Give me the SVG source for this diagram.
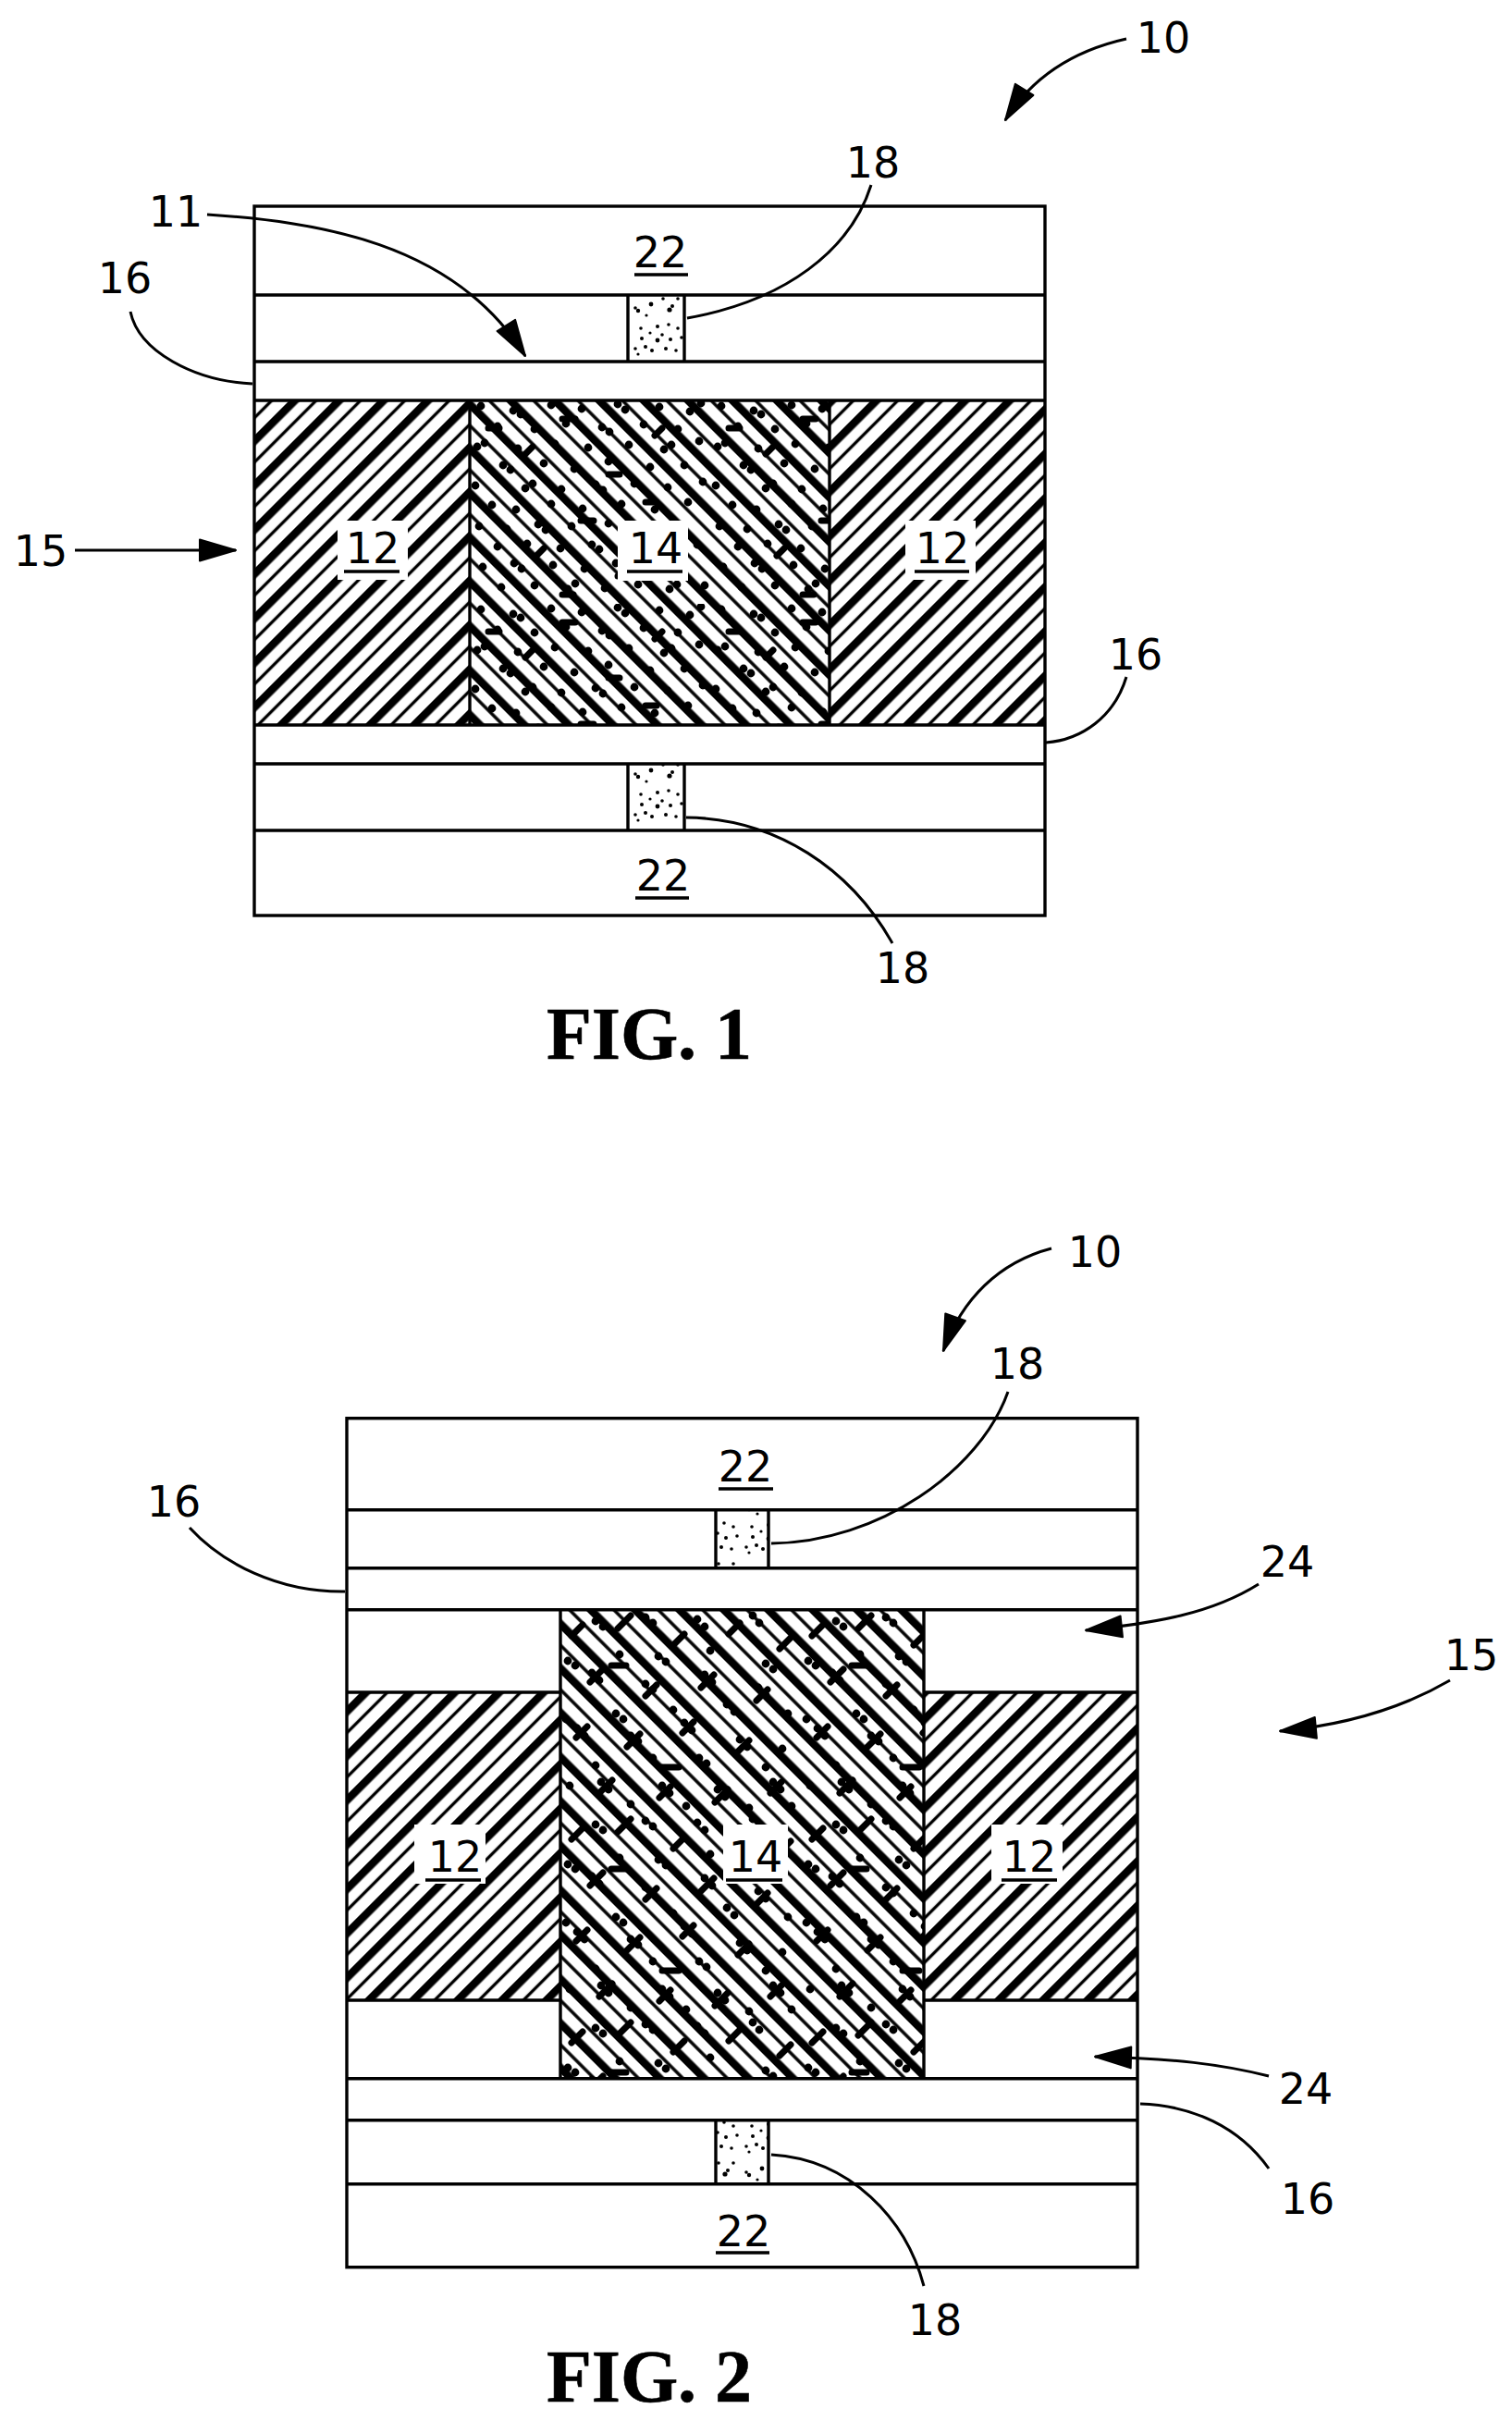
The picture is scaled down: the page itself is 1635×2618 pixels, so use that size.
<svg xmlns="http://www.w3.org/2000/svg" width="1635" height="2618" viewBox="0 0 1635 2618">
<style>
.o{fill:none;stroke:#000;stroke-width:3.4}
.l{fill:none;stroke:#000;stroke-width:3.4}
.c{fill:none;stroke:#000;stroke-width:3}
.a{marker-end:url(#ah)}
.n{font-family:"DejaVu Sans",sans-serif;font-size:46px;text-anchor:middle;fill:#000}
.f{font-family:"Liberation Serif",serif;font-weight:bold;font-size:80px;text-anchor:middle;fill:#000;stroke:#000;stroke-width:.6}
.u{stroke:#000;stroke-width:3.6}
.w{fill:#fff}
.dot{fill:none;stroke:#000;stroke-width:8.8;stroke-linecap:round}
.bar{fill:none;stroke:#000;stroke-width:7;stroke-linecap:round}
</style>
<defs>
<marker id="ah" markerUnits="userSpaceOnUse" markerWidth="44" markerHeight="30" viewBox="0 0 44 30" refX="41" refY="15" orient="auto"><path d="M2 3.500L41 15L2 26.500Z" fill="#000" stroke="#000" stroke-width="2" stroke-linejoin="round"/></marker>
<pattern id="h12" width="33.94" height="33.94" patternUnits="userSpaceOnUse"><rect x="0" width="8.500" height="33.94"/><rect x="18.800" width="3.400" height="33.94"/></pattern>
<pattern id="h14" width="33.94" height="33.94" patternUnits="userSpaceOnUse"><rect x="0" width="8.500" height="33.94"/><rect x="20.200" width="3.400" height="33.94"/></pattern>
<pattern id="p1a" href="#h12" patternTransform="translate(26 0) rotate(45)"/>
<pattern id="p1b" href="#h12" patternTransform="translate(31 0) rotate(45)"/>
<pattern id="p1c" href="#h14" patternTransform="translate(17 0) rotate(-45)"/>
<pattern id="p2a" href="#h12" patternTransform="translate(12 0) rotate(45)"/>
<pattern id="p2b" href="#h12" patternTransform="translate(21 0) rotate(45)"/>
<pattern id="p2c" href="#h14" patternTransform="translate(44 0) rotate(-45)"/>
<pattern id="d1" width="260" height="220" patternUnits="userSpaceOnUse" x="508" y="433">
<path class="dot" d="M12 6h0M47 11h0M55 15h0M88 5h0M121 9h0M160 4h0M168 10h0M205 7h0M238 12h0M250 3h0M30 28h0M70 31h0M104 25h0M143 29h0M151 34h0M188 26h0M225 31h0M8 50h0M16 46h0M52 52h0M92 47h0M128 51h0M172 48h0M210 53h0M218 48h0M248 44h0M36 70h0M44 75h0M80 68h0M113 74h0M150 66h0M195 72h0M232 70h0M6 92h0M60 95h0M68 90h0M99 96h0M136 91h0M144 97h0M178 90h0M214 94h0M252 88h0M24 113h0M50 118h0M88 112h0M122 117h0M164 112h0M200 118h0M236 110h0M10 136h0M40 139h0M74 134h0M82 140h0M110 136h0M150 133h0M186 138h0M222 134h0M230 140h0M30 158h0M62 155h0M98 160h0M132 156h0M140 161h0M170 155h0M208 160h0M246 156h0M14 180h0M48 176h0M56 182h0M90 178h0M124 182h0M158 176h0M194 181h0M228 178h0M34 202h0M70 200h0M106 204h0M114 198h0M146 203h0M182 199h0M216 204h0M224 199h0M254 200h0"/>
<path class="bar" d="M20 30h12M100 20h14M60 58l8-8M150 80h12M200 38l8-8M120 130h14M190 110h12M72 168l8-8M160 190h12M100 210h12"/>
</pattern>
<pattern id="d2" width="260" height="220" patternUnits="userSpaceOnUse" x="606" y="1741">
<path class="dot" d="M38 12h0M46 18h0M92 8h0M100 14h0M148 10h0M156 18h0M208 6h0M215 14h0M8 55h0M16 60h0M64 48h0M106 50h0M114 56h0M162 44h0M222 58h0M230 64h0M34 68h0M42 76h0M92 80h0M100 86h0M156 70h0M164 78h0M214 84h0M222 92h0M6 118h0M60 112h0M68 118h0M122 108h0M180 102h0M188 110h0M246 112h0M18 128h0M26 136h0M76 136h0M84 142h0M134 122h0M142 130h0M194 140h0M202 148h0M240 150h0M38 168h0M100 160h0M150 160h0M158 166h0M222 170h0M10 190h0M44 186h0M52 194h0M110 190h0M118 198h0M170 194h0M178 202h0M230 186h0M238 194h0M76 210h0M136 212h0M204 214h0M250 212h0"/>
<path class="bar" d="M12 28l12-12M62 20l14-14M122 38l12-12M182 26l12-12M237 42l12-12M32 78l14-14M92 93l12-12M152 84l14-14M212 98l12-12M17 138l12-12M72 148l14-14M132 133l12-12M192 153l12-12M42 198l14-14M107 203l12-12M167 208l14-14M227 198l12-12M55 60h16M110 170h18"/>
</pattern>
<pattern id="d3" width="60" height="72" patternUnits="userSpaceOnUse" x="679" y="319">
<circle cx="11" cy="17" r="2.200"/><circle cx="8" cy="14" r="1.800"/><circle cx="25" cy="10" r="2.400"/><circle cx="45" cy="16" r="2.600"/><circle cx="48" cy="12" r="2"/><circle cx="14" cy="36" r="1.800"/><circle cx="24" cy="41" r="1.600"/><circle cx="32" cy="34" r="2"/><circle cx="32" cy="49" r="2.400"/><circle cx="37" cy="43" r="1.800"/><circle cx="44" cy="32" r="1.800"/><circle cx="54" cy="36" r="1.800"/><circle cx="15" cy="47" r="2"/><circle cx="8" cy="58" r="1.800"/><circle cx="19" cy="56" r="2"/><circle cx="26" cy="60" r="2"/><circle cx="41" cy="58" r="2"/><circle cx="52" cy="60" r="1.800"/><circle cx="46" cy="48" r="2"/><circle cx="58" cy="46" r="1.800"/><circle cx="11" cy="64" r="1.600"/><circle cx="38" cy="4" r="1.800"/><circle cx="54" cy="4" r="1.800"/><circle cx="20" cy="22" r="1.600"/>
</pattern>
</defs>
<rect width="1635" height="2618" fill="#fff"/>

<g id="fig1">
<g id="fig1-panels">
<rect id="n12a" x="275" y="433" width="233" height="351" fill="url(#p1a)"/>
<rect id="n14" x="508" y="433" width="389" height="351" fill="url(#p1c)"/>
<rect x="508" y="433" width="389" height="351" fill="url(#d1)"/>
<rect id="n12b" x="897" y="433" width="233" height="351" fill="url(#p1b)"/>
<rect x="679" y="319" width="61" height="72" fill="url(#d3)"/>
<rect x="679" y="826" width="61" height="72" fill="url(#d3)"/>
<rect class="w" x="365" y="563" width="76" height="64"/>
<rect class="w" x="668" y="563" width="76" height="65"/>
<rect class="w" x="979" y="563" width="76" height="64"/>
</g>
<g id="fig1-outline">
<rect class="o" x="275" y="223" width="855" height="767"/>
<path class="l" d="M275 319H1130M275 391H1130M275 433H1130M275 784H1130M275 826H1130M275 898H1130M508 433V784M897 433V784M679 319V391M740 319V391M679 826V898M740 826V898"/>
</g>
</g>

<g id="fig2">
<g id="fig2-panels">
<rect id="n12c" x="375" y="1830" width="231" height="333" fill="url(#p2a)"/>
<rect id="n12d" x="999" y="1830" width="231" height="333" fill="url(#p2b)"/>
<rect id="n14b" x="606" y="1741" width="393" height="507" fill="url(#p2c)"/>
<rect x="606" y="1741" width="393" height="507" fill="url(#d2)"/>
<rect x="774" y="1633" width="57" height="63" fill="url(#d3)"/>
<rect x="774" y="2293" width="57" height="69" fill="url(#d3)"/>
<rect class="w" x="448" y="1973" width="77" height="64"/>
<rect class="w" x="782" y="1973" width="70" height="64"/>
<rect class="w" x="1072" y="1973" width="77" height="64"/>
</g>
<g id="fig2-outline">
<rect class="o" x="375" y="1533.7" width="855" height="918"/>
<path class="l" d="M375 1632.7H1230M375 1695.7H1230M375 1740.7H1230M375 2247.7H1230M375 2292.7H1230M375 2361.7H1230M375 1830H606M999 1830H1230M375 2163H606M999 2163H1230M606 1740.7V2247.7M999 1740.7V2247.7M774 1632.7V1695.7M831 1632.7V1695.7M774 2292.7V2361.7M831 2292.7V2361.7"/>
</g>
</g>

<g id="connectors">
<path class="c a" d="M1218 42C1160 55 1115 85 1087 130"/>
<path class="c a" d="M224 232C340 240 490 260 568 385"/>
<path class="c" d="M942 200C920 270 850 325 743 344"/>
<path class="c" d="M141 337C150 380 210 412 273 415"/>
<path class="c a" d="M81 595H255"/>
<path class="c" d="M1218 732C1205 775 1170 800 1131 803"/>
<path class="c" d="M742 884C840 885 920 940 965 1020"/>
<path class="c a" d="M1137 1350C1080 1365 1040 1405 1020 1461"/>
<path class="c" d="M1090 1505C1060 1590 950 1668 834 1669"/>
<path class="c" d="M205 1652C240 1690 300 1722 373 1721"/>
<path class="c a" d="M1361 1713C1310 1745 1250 1755 1174 1763"/>
<path class="c a" d="M1568 1817C1520 1845 1460 1865 1384 1872"/>
<path class="c a" d="M1372 2245C1320 2232 1270 2226 1184 2224"/>
<path class="c" d="M1372 2345C1340 2300 1290 2277 1233 2275"/>
<path class="c" d="M999 2472C980 2400 920 2335 834 2330"/>
</g>

<g id="labels">
<text class="n" x="1258" y="57">10</text>
<text class="n" x="944" y="192">18</text>
<text class="n" x="190" y="245">11</text>
<text class="n" x="135" y="317">16</text>
<text class="n" x="714" y="289">22</text><line class="u" x1="686" x2="744" y1="297" y2="297"/>
<text class="n" x="44" y="612">15</text>
<text class="n" x="403" y="609">12</text><line class="u" x1="372" x2="432" y1="618" y2="618"/>
<text class="n" x="709" y="609">14</text><line class="u" x1="678" x2="738" y1="618" y2="618"/>
<text class="n" x="1019" y="609">12</text><line class="u" x1="989" x2="1048" y1="618" y2="618"/>
<text class="n" x="1228" y="724">16</text>
<text class="n" x="717" y="963">22</text><line class="u" x1="687" x2="745" y1="971" y2="971"/>
<text class="n" x="976" y="1063">18</text>
<text class="f" x="702" y="1145">FIG. 1</text>

<text class="n" x="1184" y="1370">10</text>
<text class="n" x="1100" y="1491">18</text>
<text class="n" x="806" y="1602">22</text><line class="u" x1="777" x2="836" y1="1610" y2="1610"/>
<text class="n" x="188" y="1640">16</text>
<text class="n" x="1392" y="1705">24</text>
<text class="n" x="1591" y="1806">15</text>
<text class="n" x="492" y="2024">12</text><line class="u" x1="460" x2="520" y1="2033" y2="2033"/>
<text class="n" x="817" y="2024">14</text><line class="u" x1="785" x2="846" y1="2033" y2="2033"/>
<text class="n" x="1113" y="2024">12</text><line class="u" x1="1083" x2="1143" y1="2033" y2="2033"/>
<text class="n" x="1412" y="2275">24</text>
<text class="n" x="1414" y="2394">16</text>
<text class="n" x="804" y="2429">22</text><line class="u" x1="774" x2="832" y1="2436" y2="2436"/>
<text class="n" x="1011" y="2525">18</text>
<text class="f" x="702" y="2597">FIG. 2</text>
</g>
</svg>
